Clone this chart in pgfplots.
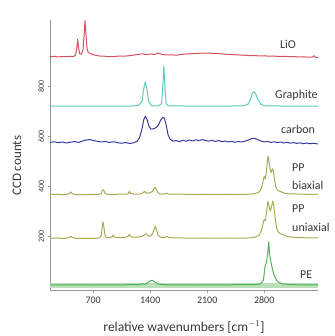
\documentclass[border=0pt]{standalone}
\usepackage{fontspec}
\setmainfont{Carlito}
\usepackage{pgfplots}
\pgfplotsset{compat=1.18}
\definecolor{lio}{RGB}{214,80,94}
\definecolor{graph}{RGB}{92,204,184}
\definecolor{carb}{RGB}{58,58,160}
\definecolor{pp}{RGB}{168,170,86}
\definecolor{pe}{RGB}{80,176,84}
\definecolor{peband}{RGB}{185,224,185}
\definecolor{axgray}{RGB}{150,150,150}
\definecolor{txt}{RGB}{55,55,55}
\begin{document}
\begin{tikzpicture}
\begin{axis}[
  scale only axis, width=268pt, height=270pt,
  xmin=170, xmax=3460, ymin=-15, ymax=1065,
  axis lines=left, axis line style={axgray, -},
  xtick={700,1400,2100,2800}, ytick={200,400,600,800},
  tick align=outside, major tick length=2.5pt,
  tick style={axgray},
  /pgf/number format/assume math mode=true,
  /pgf/number format/1000 sep={},
  xticklabel style={font=\fontsize{10}{12}\selectfont, text=txt, yshift=-1pt},
  yticklabel style={font=\fontsize{8}{10}\selectfont, text=txt, rotate=90, anchor=south},
  xlabel={relative wavenumbers [cm$^{-1}$]},
  ylabel={CCD counts},
  every axis x label/.style={at={(rel axis cs:0.5,0)}, yshift=-37pt, anchor=center, font=\fontsize{13.5}{15}\selectfont, text=txt},
  every axis y label/.style={at={(rel axis cs:0,0.46)}, xshift=-33pt, rotate=90, anchor=center, font=\fontsize{13}{15}\selectfont, text=txt},
  clip=false,
  every axis plot/.append style={line width=1pt, line join=round},
]
\coordinate (ll) at (rel axis cs:0,0);
% PE band
\addplot[peband, line width=5pt] coordinates {(170,3) (3460,3)};
% LiO
\addplot[lio] coordinates {
(170,918) (220,920) (270,917) (320,919) (370,918) (420,920) (460,919) (485,925) (500,955) (510,988) (520,955) (535,930) (555,928) (575,945) (590,1010) (600,1063) (612,1005) (625,950) (640,935) (660,932) (690,927) (730,924) (780,921) (840,920) (900,918) (960,919) (1020,921) (1080,920) (1140,922) (1200,925) (1250,927) (1300,930) (1350,926) (1400,929) (1450,927) (1500,933) (1540,928) (1600,925) (1660,926) (1720,924) (1780,927) (1840,929) (1900,930) (1960,931) (2020,932) (2080,933) (2140,932) (2200,931) (2260,930) (2320,928) (2380,927) (2440,926) (2500,925) (2560,924) (2620,922) (2680,923) (2740,921) (2800,922) (2860,920) (2920,921) (2980,919) (3040,920) (3100,918) (3160,919) (3220,917) (3280,918) (3340,916) (3390,917) (3410,922) (3425,916) (3460,915)};
% Graphite
\addplot[graph] coordinates {
(170,720) (400,720) (700,720) (1000,720) (1200,721) (1260,724) (1300,740) (1320,790) (1340,818) (1360,790) (1380,740) (1410,724) (1450,721) (1500,722) (1540,730) (1555,800) (1568,882) (1580,800) (1595,730) (1620,722) (1800,721) (2000,720) (2200,720) (2400,721) (2550,722) (2600,728) (2630,745) (2655,772) (2675,778) (2695,770) (2725,745) (2760,728) (2800,722) (3000,721) (3200,720) (3460,720)};
% carbon
\addplot[carb] coordinates {
(170,575) (220,578) (270,574) (320,577) (370,573) (420,576) (470,579) (520,575) (570,581) (620,585) (660,587) (700,583) (750,580) (800,577) (850,579) (900,575) (950,578) (1000,574) (1050,572) (1100,575) (1150,571) (1200,574) (1240,580) (1270,595) (1300,630) (1320,665) (1340,680) (1360,668) (1385,640) (1410,628) (1440,630) (1470,634) (1500,645) (1530,665) (1555,676) (1575,672) (1600,640) (1620,605) (1645,588) (1680,580) (1720,583) (1760,578) (1800,584) (1840,580) (1880,585) (1920,581) (1960,586) (2000,582) (2040,587) (2080,583) (2120,580) (2160,584) (2200,579) (2240,583) (2280,578) (2320,581) (2360,577) (2400,580) (2440,576) (2480,579) (2520,577) (2560,580) (2600,584) (2640,590) (2680,592) (2720,586) (2760,581) (2800,577) (2840,580) (2880,575) (2920,578) (2960,574) (3000,577) (3040,573) (3080,576) (3120,572) (3160,575) (3200,571) (3240,574) (3280,570) (3320,573) (3360,570) (3400,572) (3460,569)};
% PP biaxial
\addplot[pp] coordinates {
(170,367) (250,368) (320,366) (380,368) (410,372) (425,377) (440,371) (470,367) (550,366) (650,367) (760,368) (800,370) (810,382) (820,386) (835,381) (845,372) (870,368) (950,367) (1050,369) (1100,368) (1130,370) (1145,380) (1160,371) (1200,369) (1260,368) (1300,371) (1320,376) (1335,380) (1350,372) (1380,373) (1420,378) (1445,390) (1460,396) (1475,387) (1495,374) (1530,369) (1570,368) (1600,373) (1620,369) (1680,368) (1800,368) (1950,367) (2100,368) (2250,367) (2400,368) (2550,367) (2650,369) (2700,372) (2740,378) (2765,392) (2785,420) (2800,440) (2815,430) (2830,470) (2845,520) (2855,510) (2870,470) (2885,455) (2900,470) (2912,462) (2925,430) (2940,400) (2960,385) (2990,380) (3020,376) (3050,372) (3100,370) (3200,369) (3300,368) (3460,367)};
% PP uniaxial
\addplot[pp] coordinates {
(170,192) (250,193) (330,191) (390,193) (415,197) (430,200) (445,195) (480,192) (560,191) (650,192) (720,191) (780,194) (800,205) (812,240) (822,258) (832,235) (845,205) (860,195) (900,194) (930,197) (945,205) (960,196) (1000,194) (1060,195) (1100,196) (1130,200) (1145,208) (1160,198) (1200,196) (1260,197) (1300,200) (1330,205) (1350,210) (1370,202) (1400,200) (1430,210) (1450,230) (1462,240) (1475,228) (1495,205) (1530,196) (1580,195) (1605,200) (1620,196) (1680,194) (1800,193) (1950,192) (2100,193) (2250,192) (2400,193) (2550,192) (2650,194) (2700,198) (2740,205) (2765,222) (2785,250) (2800,268) (2815,262) (2830,300) (2845,340) (2860,320) (2875,300) (2890,320) (2905,340) (2918,320) (2935,270) (2950,235) (2970,218) (3000,210) (3030,206) (3060,202) (3100,198) (3200,195) (3300,194) (3460,193)};
% PE
\addplot[pe] coordinates {
(170,5) (300,6) (500,5) (700,6) (900,5) (1100,6) (1200,8) (1250,6) (1300,10) (1330,7) (1360,12) (1400,22) (1430,24) (1460,16) (1500,9) (1550,7) (1600,6) (1800,5) (2000,6) (2200,5) (2400,6) (2600,6) (2700,7) (2760,10) (2790,25) (2810,80) (2830,100) (2845,140) (2855,178) (2865,130) (2880,100) (2900,70) (2920,45) (2950,25) (2980,15) (3020,10) (3100,7) (3200,6) (3460,5)};
% labels
\begin{scope}[every node/.style={font=\fontsize{12}{14}\selectfont, text=txt, anchor=west, inner sep=0pt}]
\node at ([xshift=230pt,yshift=246pt]ll) {LiO};
\node at ([xshift=225pt,yshift=195pt]ll) {Graphite};
\node at ([xshift=231pt,yshift=161pt]ll) {carbon};
\node at ([xshift=242pt,yshift=122pt]ll) {PP};
\node at ([xshift=242pt,yshift=105pt]ll) {biaxial};
\node at ([xshift=242pt,yshift=81pt]ll) {PP};
\node at ([xshift=242pt,yshift=63pt]ll) {uniaxial};
\node at ([xshift=250pt,yshift=15pt]ll) {PE};
\end{scope}
\end{axis}
\pgfresetboundingbox
\path[use as bounding box] ([xshift=-50pt,yshift=-46pt]ll) rectangle ([xshift=284pt,yshift=290pt]ll);
\end{tikzpicture}
\end{document}
